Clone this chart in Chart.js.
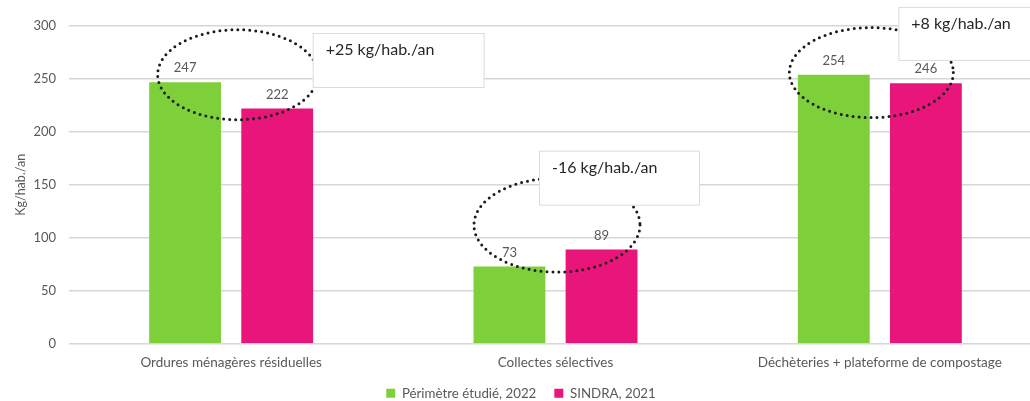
<!DOCTYPE html>
<html><head><meta charset="utf-8">
<script src="https://cdn.jsdelivr.net/npm/chart.js@4"></script>
<style>html,body{margin:0;padding:0;overflow:hidden;background:#fff}#wrap{width:1042px;height:401px;position:relative}</style>
</head><body><div id="wrap"><canvas id="c"></canvas></div>
<script>
const categories = ['Ordures ménagères résiduelles', 'Collectes sélectives', 'Déchèteries + plateforme de compostage'];
const seriesNames = ['Périmètre étudié, 2022', 'SINDRA, 2021'];
const perimetre2022 = [247, 73, 254];
const sindra2021 = [222, 89, 246];
const diffLabels = ['+25 kg/hab./an', '-16 kg/hab./an', '+8 kg/hab./an'];
const yTicks = [0, 50, 100, 150, 200, 250, 300];
const axisTitle = 'Kg/hab./an';

// annotation placement (category index + value for anchor, pixel sizes)
const ellipses = [
  {cat: 0, dx: 6.5, value: 254, rx: 80, ry: 45},
  {cat: 1, dx: 1.5, value: 112, rx: 83, ry: 47},
  {cat: 2, dx: -8.5, value: 256, rx: 82, ry: 45}
];
const boxes = [
  {cat: 0, dx: 81.5, value: 293.4, w: 171, h: 54},
  {cat: 1, dx: -16.5, value: 182.3, w: 160, h: 54},
  {cat: 2, dx: 18.5, value: 318, w: 150, h: 53}
];

const FONT = 'Lato';
const GREEN = '#7ED03B', PINK = '#E8157A', GREY = '#595959';

const annotPlugin = {
  id: 'annot',
  afterDatasetsDraw(chart) {
    const ctx = chart.ctx, xs = chart.scales.x, ys = chart.scales.y;
    ctx.save();
    ctx.strokeStyle = '#1c1c1c';
    ctx.lineWidth = 3;
    ctx.lineCap = 'round';
    ctx.setLineDash([0, 6]);
    ellipses.forEach(e => {
      const cx = xs.getPixelForValue(e.cat) + e.dx, cy = ys.getPixelForValue(e.value);
      ctx.beginPath();
      ctx.ellipse(cx, cy, e.rx, e.ry, 0, 0, Math.PI * 2);
      ctx.stroke();
    });
    ctx.setLineDash([]);
    boxes.forEach((b, i) => {
      const x = xs.getPixelForValue(b.cat) + b.dx, y = ys.getPixelForValue(b.value);
      ctx.fillStyle = '#ffffff';
      ctx.fillRect(x, y, b.w, b.h);
      ctx.strokeStyle = '#dcdcdc';
      ctx.lineWidth = 1;
      ctx.strokeRect(x + 0.5, y + 0.5, b.w, b.h);
      ctx.fillStyle = '#262626';
      ctx.font = '16px ' + FONT;
      ctx.textBaseline = 'middle';
      ctx.textAlign = 'left';
      ctx.fillText(diffLabels[i], x + 13, y + 17);
    });
    ctx.font = '13px ' + FONT;
    ctx.fillStyle = GREY;
    ctx.textAlign = 'center';
    ctx.textBaseline = 'middle';
    chart.data.datasets.forEach((ds, di) => {
      chart.getDatasetMeta(di).data.forEach((bar, i) => {
        ctx.fillText(String(ds.data[i]), bar.x, bar.y - 14);
      });
    });
    ctx.restore();
  }
};

new Chart(document.getElementById('c'), {
  type: 'bar',
  data: {
    labels: categories,
    datasets: [
      {label: seriesNames[0], data: perimetre2022, backgroundColor: GREEN, barPercentage: 0.78, categoryPercentage: 0.568},
      {label: seriesNames[1], data: sindra2021, backgroundColor: PINK, barPercentage: 0.78, categoryPercentage: 0.568}
    ]
  },
  options: {
    responsive: true,
    maintainAspectRatio: false,
    animation: false,
    layout: {padding: {top: 26, left: 0, right: 0, bottom: -9}},
    scales: {
      x: {
        grid: {display: false, drawTicks: false},
        border: {display: false},
        ticks: {font: {family: FONT, size: 13.5}, color: GREY, padding: 11, maxRotation: 0},
        afterFit(s) { s.height = 25; }
      },
      y: {
        min: 0, max: 300,
        afterBuildTicks(s) { s.ticks = yTicks.map(v => ({value: v})); },
        grid: {color: '#d6d6d6', lineWidth: 1.6, drawTicks: false},
        border: {display: false},
        ticks: {font: {family: FONT, size: 13}, color: GREY, padding: 13},
        title: {display: true, text: axisTitle, font: {family: FONT, size: 12.5}, color: GREY, padding: {top: 13, bottom: 0}},
        afterFit(s) { s.width = 69; }
      }
    },
    plugins: {
      legend: {
        position: 'bottom',
        labels: {font: {family: FONT, size: 13.3}, color: GREY, boxWidth: 9, boxHeight: 9, padding: 18}
      },
      tooltip: {enabled: false}
    }
  },
  plugins: [annotPlugin]
});
</script>
</body></html>
